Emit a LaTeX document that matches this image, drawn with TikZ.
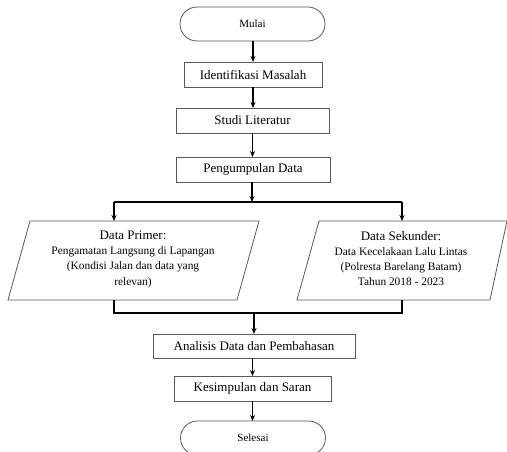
\documentclass[tikz,border=0pt]{standalone}
\usepackage{fontspec}
\setmainfont{Liberation Serif}
\usetikzlibrary{arrows.meta}
\begin{document}
\begin{tikzpicture}[x=1pt,y=-1pt,
  boxstyle/.style={draw=black!65,line width=0.8pt,inner sep=0pt,outer sep=0pt,
    font=\fontsize{13}{15}\selectfont,text=black},
  termstyle/.style={boxstyle,rounded corners=17pt,minimum width=145pt,minimum height=34pt,
    font=\fontsize{11}{13}\selectfont},
  parastyle/.style={draw=black!65,line width=0.8pt},
  paratext/.style={align=center,inner sep=0pt,text=black,font=\fontsize{11.4}{15.3}\selectfont},
  conn/.style={line width=1.6pt,black},
  arr/.style={conn,-{Stealth[length=6pt,width=5pt]}}]
\useasboundingbox (0,0) rectangle (507,452);
\fill[white] (0,0) rectangle (507,452);

\node[termstyle] (mulai) at (252.5,24) {Mulai};
\node[boxstyle,minimum width=138pt,minimum height=25pt] (ident) at (253,74.5) {Identifikasi Masalah};
\node[boxstyle,minimum width=153pt,minimum height=25pt] (studi) at (252.5,120.5) {Studi Literatur};
\node[boxstyle,minimum width=154pt,minimum height=25pt] (kumpul) at (253,169.5) {Pengumpulan Data};

% parallelograms
\coordinate (p1a) at (30,221); \coordinate (p1b) at (259,221);
\coordinate (p1c) at (237,300); \coordinate (p1d) at (8,300);
\coordinate (p2a) at (319,221); \coordinate (p2b) at (507,221);
\coordinate (p2c) at (490,300); \coordinate (p2d) at (297,300);
\draw[parastyle] (p1a) -- (p1b) -- (p1c) -- (p1d) -- cycle;
\draw[parastyle] (p2a) -- (p2b) -- (p2c) -- (p2d) -- cycle;
\node[paratext] (primer) at (133,259) {{\fontsize{13}{15.3}\selectfont Data Primer:}\\Pengamatan Langsung di Lapangan\\(Kondisi Jalan dan data yang\\relevan)};
\node[paratext] (sekunder) at (401,258.5) {{\fontsize{13}{15.3}\selectfont Data Sekunder:}\\Data Kecelakaan Lalu Lintas\\(Polresta Barelang Batam)\\Tahun 2018 - 2023};

\node[boxstyle,minimum width=202pt,minimum height=24pt] (analisis) at (254,346) {Analisis Data dan Pembahasan};
\node[boxstyle,minimum width=157pt,minimum height=25pt] (simpul) at (252.5,388.5) {Kesimpulan dan Saran};
\node[termstyle] (selesai) at (253,438) {Selesai};

% connector points
\coordinate (splitc) at (252,202);
\coordinate (splitl) at (114,202);
\coordinate (splitr) at (402,202);
\coordinate (inl) at (114,221);
\coordinate (inr) at (402,221);
\coordinate (outl) at (114,300);
\coordinate (outr) at (402,300);
\coordinate (joinl) at (114,313);
\coordinate (joinr) at (402,313);
\coordinate (joinc) at (254,313);

\draw[arr] (mulai.south -| ident.north) -- (ident.north);
\draw[arr] (ident.south) -- (ident.south |- studi.north);
\draw[arr] (studi.south) -- (studi.south |- kumpul.north);
\draw[arr] (kumpul.south -| splitc) -- (splitc);
\draw[conn] (splitl) -- (splitr);
\draw[arr] (splitl) -- (inl);
\draw[arr] (splitr) -- (inr);
\draw[conn] (outl) -- (joinl) -- (joinr) -- (outr);
\draw[arr] (joinc) -- (analisis.north);
\draw[arr] (analisis.south -| simpul.north) -- (simpul.north);
\draw[arr] (simpul.south) -- (simpul.south |- selesai.north);
\end{tikzpicture}
\end{document}
